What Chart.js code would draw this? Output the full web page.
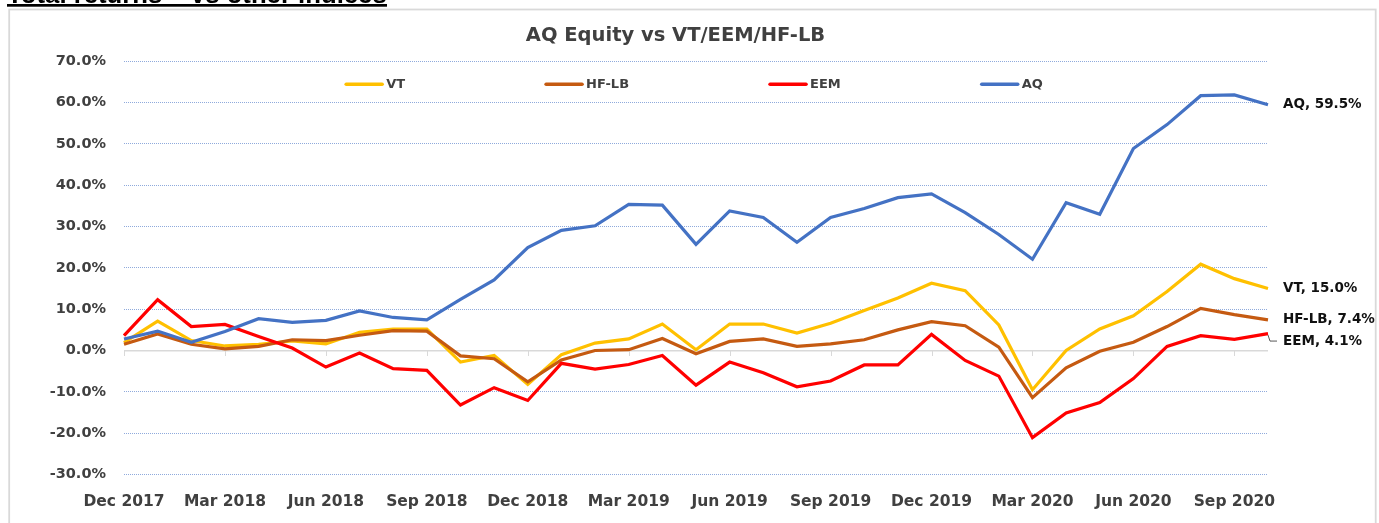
<!DOCTYPE html>
<html><head><meta charset="utf-8">
<script src="https://cdn.jsdelivr.net/npm/chart.js@4.4.0/dist/chart.umd.min.js"></script>
<style>html,body{margin:0;padding:0;background:#fff;overflow:hidden}#wrap{position:absolute;left:0;top:0;width:1379px;height:523px}</style>
</head><body><div id="wrap"><canvas id="c" width="1379" height="523"></canvas></div>
<script>
// ---- data ----
const months = ['Dec 2017','Jan 2018','Feb 2018','Mar 2018','Apr 2018','May 2018','Jun 2018','Jul 2018','Aug 2018','Sep 2018','Oct 2018','Nov 2018',
  'Dec 2018','Jan 2019','Feb 2019','Mar 2019','Apr 2019','May 2019','Jun 2019','Jul 2019','Aug 2019','Sep 2019','Oct 2019','Nov 2019',
  'Dec 2019','Jan 2020','Feb 2020','Mar 2020','Apr 2020','May 2020','Jun 2020','Jul 2020','Aug 2020','Sep 2020','Oct 2020'];
const seriesNames = ['VT','HF-LB','EEM','AQ'];
const vtValues   = [1.9, 7.1, 2.4, 1.1, 1.5, 2.3, 1.6, 4.4, 5.2, 5.2, -2.8, -1.2, -8.2, -1.0, 1.8, 2.8, 6.4, 0.2, 6.4, 6.4, 4.2, 6.6, 9.7, 12.7, 16.3, 14.5, 6.2, -9.5, 0.0, 5.2, 8.4, 14.3, 20.9, 17.4, 15.0];
const hflbValues = [1.5, 4.0, 1.5, 0.4, 1.0, 2.6, 2.4, 3.7, 4.8, 4.7, -1.3, -2.0, -7.6, -2.3, 0.0, 0.2, 2.9, -0.8, 2.2, 2.8, 1.0, 1.6, 2.6, 5.0, 7.0, 6.0, 0.8, -11.4, -4.2, -0.2, 2.0, 5.8, 10.2, 8.7, 7.4];
const eemValues  = [3.6, 12.3, 5.8, 6.3, 3.4, 0.6, -4.0, -0.6, -4.4, -4.8, -13.2, -9.0, -12.1, -3.1, -4.5, -3.4, -1.2, -8.4, -2.8, -5.4, -8.8, -7.4, -3.5, -3.5, 3.9, -2.4, -6.2, -21.1, -15.1, -12.6, -6.8, 1.0, 3.6, 2.7, 4.1];
const aqValues   = [2.8, 4.7, 2.0, 4.6, 7.7, 6.8, 7.3, 9.6, 8.0, 7.4, 12.4, 17.1, 24.9, 29.1, 30.2, 35.4, 35.2, 25.7, 33.8, 32.2, 26.2, 32.2, 34.4, 37.0, 37.9, 33.4, 28.1, 22.1, 35.8, 33.0, 48.9, 54.7, 61.7, 61.9, 59.5];
const yMin = -30, yMax = 70, yStep = 10;
const chartTitle = 'AQ Equity vs VT/EEM/HF-LB';
const pageHeading = 'Total returns \u2013 vs other indices';

// ---- styles ----
const FONT = "'DejaVu Sans', sans-serif";
const colors = ['#FFC000', '#C55A11', '#FF0000', '#4472C4'];
const valueSets = [vtValues, hflbValues, eemValues, aqValues];
const endLabelDy = {'EEM': 7.5};

const decor = {
  id: 'decor',
  beforeDraw(chart) {
    const ctx = chart.ctx;
    ctx.save();
    ctx.fillStyle = '#fff';
    ctx.fillRect(0, 0, chart.width, chart.height);
    ctx.strokeStyle = '#d9d9d9';
    ctx.lineWidth = 1.8;
    ctx.strokeRect(9.2, 9.5, 1366.5, 530);
    let size = 24;
    ctx.font = 'bold ' + size + "px 'Liberation Sans', Arial, sans-serif";
    const w = ctx.measureText(pageHeading).width;
    size = size * 380 / w;
    ctx.font = 'bold ' + size + "px 'Liberation Sans', Arial, sans-serif";
    ctx.fillStyle = '#000';
    ctx.textBaseline = 'alphabetic';
    ctx.textAlign = 'left';
    ctx.fillText(pageHeading, 7, 3.3);
    ctx.fillRect(7, 4, 380, 2.7);
    ctx.fillStyle = '#404040';
    ctx.font = 'bold 19.5px ' + FONT;
    ctx.textAlign = 'center';
    ctx.textBaseline = 'middle';
    ctx.fillText(chartTitle, 675.5, 36);
    ctx.restore();
  },
  beforeDatasetsDraw(chart) {
    const ctx = chart.ctx, xs = chart.scales.x, ys = chart.scales.y;
    const y0 = ys.getPixelForValue(0);
    ctx.save();
    ctx.strokeStyle = '#d9d9d9';
    ctx.lineWidth = 1;
    for (let i = 0; i < months.length; i += 3) {
      const x = Math.round(xs.getPixelForValue(i)) + 0.5;
      ctx.beginPath(); ctx.moveTo(x, y0); ctx.lineTo(x, y0 + 5.5); ctx.stroke();
    }
    ctx.restore();
  },
  afterDatasetsDraw(chart) {
    const ctx = chart.ctx, area = chart.chartArea;
    ctx.save();
    ctx.font = 'bold 13px ' + FONT;
    ctx.textBaseline = 'middle';
    ctx.textAlign = 'left';
    const sw = 38, gapT = 3, gap = 140, ly = 84.3;
    const widths = chart.data.datasets.map(d => sw + gapT + ctx.measureText(d.label).width);
    const total = widths.reduce((a, b) => a + b, 0) + gap * (widths.length - 1);
    let x = (area.left + area.right) / 2 - total / 2 - 2;
    chart.data.datasets.forEach((d, i) => {
      ctx.strokeStyle = d.borderColor;
      ctx.lineWidth = 3.5;
      ctx.lineCap = 'round';
      ctx.beginPath(); ctx.moveTo(x + 1, ly); ctx.lineTo(x + sw - 1, ly); ctx.stroke();
      ctx.fillStyle = '#404040';
      ctx.fillText(d.label, x + sw + gapT, ly + 0.5);
      x += widths[i] + gap;
    });
    ctx.font = 'bold 13.5px ' + FONT;
    ctx.fillStyle = '#111';
    chart.data.datasets.forEach((d, i) => {
      const meta = chart.getDatasetMeta(i);
      const pt = meta.data[meta.data.length - 1];
      const v = d.data[d.data.length - 1];
      const dy = endLabelDy[d.label] || 0;
      const tx = pt.x + 15, ty = pt.y + dy;
      if (dy) {
        ctx.strokeStyle = '#595959';
        ctx.lineWidth = 1;
        ctx.lineCap = 'butt';
        ctx.beginPath(); ctx.moveTo(pt.x, pt.y + 1.5); ctx.lineTo(pt.x + 2, ty); ctx.lineTo(pt.x + 9, ty); ctx.stroke();
      }
      ctx.fillText(d.label + ', ' + v.toFixed(1) + '%', tx, ty);
    });
    ctx.restore();
  }
};

new Chart(document.getElementById('c'), {
  type: 'line',
  data: {
    labels: months,
    datasets: seriesNames.map((n, i) => ({
      label: n,
      data: valueSets[i],
      borderColor: colors[i],
      backgroundColor: colors[i],
      borderWidth: 3.2,
      pointRadius: 0,
      tension: 0,
      fill: false,
      order: seriesNames.length - i
    }))
  },
  options: {
    responsive: false,
    animation: false,
    devicePixelRatio: 1,
    layout: {padding: {left: 0, right: 111, top: 61.4, bottom: 0}},
    plugins: {legend: {display: false}, title: {display: false}, tooltip: {enabled: false}},
    scales: {
      x: {
        type: 'category', offset: false,
        grid: {display: false}, border: {display: false},
        ticks: {autoSkip: false, maxRotation: 0, minRotation: 0, padding: 10.5, color: '#404040',
          font: {family: FONT, size: 15.5, weight: 'bold'},
          callback: (v, i) => (i % 3 === 0 ? months[i] : '')},
        afterFit: s => { s.height = 48.6; }
      },
      y: {
        min: yMin, max: yMax,
        ticks: {stepSize: yStep, padding: 18, color: '#404040',
          font: {family: FONT, size: 14.5, weight: 'bold'},
          callback: v => v.toFixed(1) + '%'},
        grid: {drawTicks: false,
          color: c => (c.tick && c.tick.value === 0 ? '#d9d9d9' : '#8FAADC'),
          lineWidth: c => (c.tick && c.tick.value === 0 ? 1.6 : 1)},
        border: {display: false, dash: c => (c.tick && c.tick.value === 0 ? [] : [1, 1])},
        afterFit: s => { s.width = 124; }
      }
    }
  },
  plugins: [decor]
});
</script></body></html>
